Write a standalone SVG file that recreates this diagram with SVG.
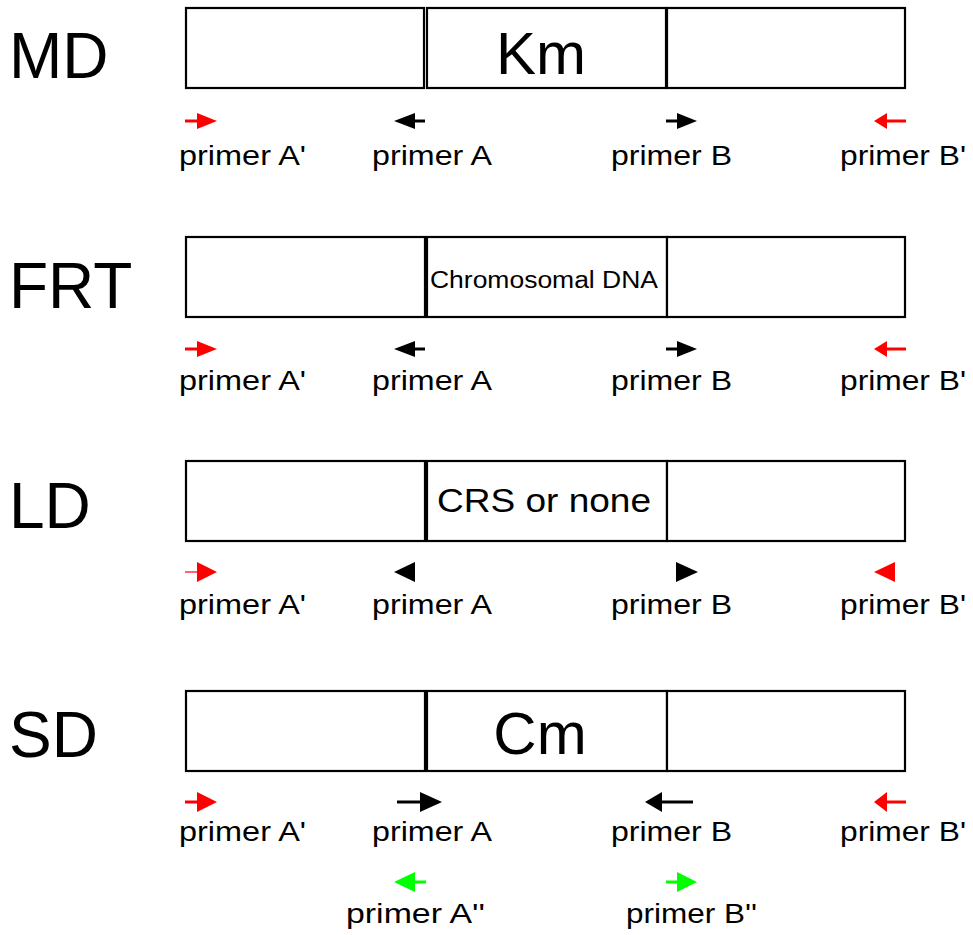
<svg xmlns="http://www.w3.org/2000/svg" width="973" height="935" viewBox="0 0 973 935">
<style>
  text { font-family: "Liberation Sans", Arial, sans-serif; fill: #000; }
  .row { font-size: 64px; }
  .lbl { font-size: 27px; }
  .box { fill: #fff; stroke: #000; stroke-width: 2.2; }
  .blk { fill: #000; }
  .red { fill: #ff0000; }
  .grn { fill: #00ff00; }
  .ln { stroke-width: 3; fill: none; }
</style>
<rect width="973" height="935" fill="#fff"/>

<g id="row-MD">
  <text class="row" x="9" y="78">MD</text>
  <rect class="box" x="186" y="8" width="238" height="80"/>
  <rect class="box" x="427" y="8" width="239" height="80"/>
  <rect class="box" x="667" y="8" width="238" height="80"/>
  <text x="541" y="74" font-size="60" text-anchor="middle">Km</text>
</g>
<g id="row-FRT">
  <text class="row" x="9" y="308">FRT</text>
  <rect class="box" x="186" y="237" width="239" height="80"/>
  <rect class="box" x="427" y="237" width="240" height="80"/>
  <rect class="box" x="667" y="237" width="238" height="80"/>
  <text x="430" y="288" font-size="23" textLength="228" lengthAdjust="spacingAndGlyphs">Chromosomal DNA</text>
</g>
<g id="row-LD">
  <text class="row" x="9" y="528">LD</text>
  <rect class="box" x="186" y="461" width="239" height="80"/>
  <rect class="box" x="427" y="461" width="240" height="80"/>
  <rect class="box" x="667" y="461" width="238" height="80"/>
  <text x="437" y="512" font-size="33" textLength="214" lengthAdjust="spacingAndGlyphs">CRS or none</text>
</g>
<g id="row-SD">
  <text class="row" x="9" y="757">SD</text>
  <rect class="box" x="186" y="691" width="239" height="80"/>
  <rect class="box" x="427" y="691" width="240" height="80"/>
  <rect class="box" x="667" y="691" width="238" height="80"/>
  <text x="540" y="754" font-size="60" text-anchor="middle">Cm</text>
</g>

<g id="primer-labels" class="lbl">
  <text x="179" y="165" textLength="127" lengthAdjust="spacingAndGlyphs">primer A'</text>
  <text x="372" y="165" textLength="120" lengthAdjust="spacingAndGlyphs">primer A</text>
  <text x="611" y="165" textLength="121" lengthAdjust="spacingAndGlyphs">primer B</text>
  <text x="840" y="165" textLength="126" lengthAdjust="spacingAndGlyphs">primer B'</text>

  <text x="179" y="390" textLength="127" lengthAdjust="spacingAndGlyphs">primer A'</text>
  <text x="372" y="390" textLength="120" lengthAdjust="spacingAndGlyphs">primer A</text>
  <text x="611" y="390" textLength="121" lengthAdjust="spacingAndGlyphs">primer B</text>
  <text x="840" y="390" textLength="126" lengthAdjust="spacingAndGlyphs">primer B'</text>

  <text x="179" y="614" textLength="127" lengthAdjust="spacingAndGlyphs">primer A'</text>
  <text x="372" y="614" textLength="120" lengthAdjust="spacingAndGlyphs">primer A</text>
  <text x="611" y="614" textLength="121" lengthAdjust="spacingAndGlyphs">primer B</text>
  <text x="840" y="614" textLength="126" lengthAdjust="spacingAndGlyphs">primer B'</text>

  <text x="179" y="841" textLength="127" lengthAdjust="spacingAndGlyphs">primer A'</text>
  <text x="372" y="841" textLength="120" lengthAdjust="spacingAndGlyphs">primer A</text>
  <text x="611" y="841" textLength="121" lengthAdjust="spacingAndGlyphs">primer B</text>
  <text x="840" y="841" textLength="126" lengthAdjust="spacingAndGlyphs">primer B'</text>

  <text x="346" y="923" textLength="139" lengthAdjust="spacingAndGlyphs">primer A''</text>
  <text x="626" y="923" textLength="131" lengthAdjust="spacingAndGlyphs">primer B''</text>
</g>

<g id="connectors">
  <!-- MD row -->
  <line class="ln" x1="185" y1="121" x2="199" y2="121" stroke="#ff0000"/>
  <polygon class="red" points="197,113 217,121 197,129"/>
  <line class="ln" x1="413" y1="121" x2="425" y2="121" stroke="#000"/>
  <polygon class="blk" points="394,121 415,113 415,129"/>
  <line class="ln" x1="666" y1="121" x2="679" y2="121" stroke="#000"/>
  <polygon class="blk" points="677,113 697,121 677,129"/>
  <line class="ln" x1="885" y1="121" x2="906" y2="121" stroke="#ff0000"/>
  <polygon class="red" points="874,121 887,113 887,129"/>

  <!-- FRT row -->
  <line class="ln" x1="185" y1="349" x2="199" y2="349" stroke="#ff0000"/>
  <polygon class="red" points="197,341 217,349 197,357"/>
  <line class="ln" x1="413" y1="349" x2="425" y2="349" stroke="#000"/>
  <polygon class="blk" points="394,349 415,341 415,357"/>
  <line class="ln" x1="666" y1="349" x2="679" y2="349" stroke="#000"/>
  <polygon class="blk" points="677,341 697,349 677,357"/>
  <line class="ln" x1="885" y1="349" x2="906" y2="349" stroke="#ff0000"/>
  <polygon class="red" points="874,349 887,341 887,357"/>

  <!-- LD row -->
  <line x1="185" y1="572" x2="199" y2="572" stroke="#ff0000" stroke-width="1.2"/>
  <polygon class="red" points="197,562 217,572 197,582"/>
  <polygon class="blk" points="394,572 415,562 415,582"/>
  <polygon class="blk" points="676,562 698,572 676,582"/>
  <polygon class="red" points="874,572 895,562 895,582"/>

  <!-- SD row -->
  <line class="ln" x1="185" y1="802" x2="199" y2="802" stroke="#ff0000"/>
  <polygon class="red" points="197,792 217,802 197,812"/>
  <line class="ln" x1="397" y1="802" x2="422" y2="802" stroke="#000"/>
  <polygon class="blk" points="420,792 442,802 420,812"/>
  <line class="ln" x1="660" y1="802" x2="693" y2="802" stroke="#000"/>
  <polygon class="blk" points="645,802 662,792 662,812"/>
  <line class="ln" x1="885" y1="802" x2="906" y2="802" stroke="#ff0000"/>
  <polygon class="red" points="874,802 887,792 887,812"/>

  <!-- SD second row -->
  <line class="ln" x1="413" y1="882" x2="426" y2="882" stroke="#00ff00"/>
  <polygon class="grn" points="394,882 415,872 415,892"/>
  <line class="ln" x1="666" y1="882" x2="679" y2="882" stroke="#00ff00"/>
  <polygon class="grn" points="677,872 697,882 677,892"/>
</g>
</svg>
